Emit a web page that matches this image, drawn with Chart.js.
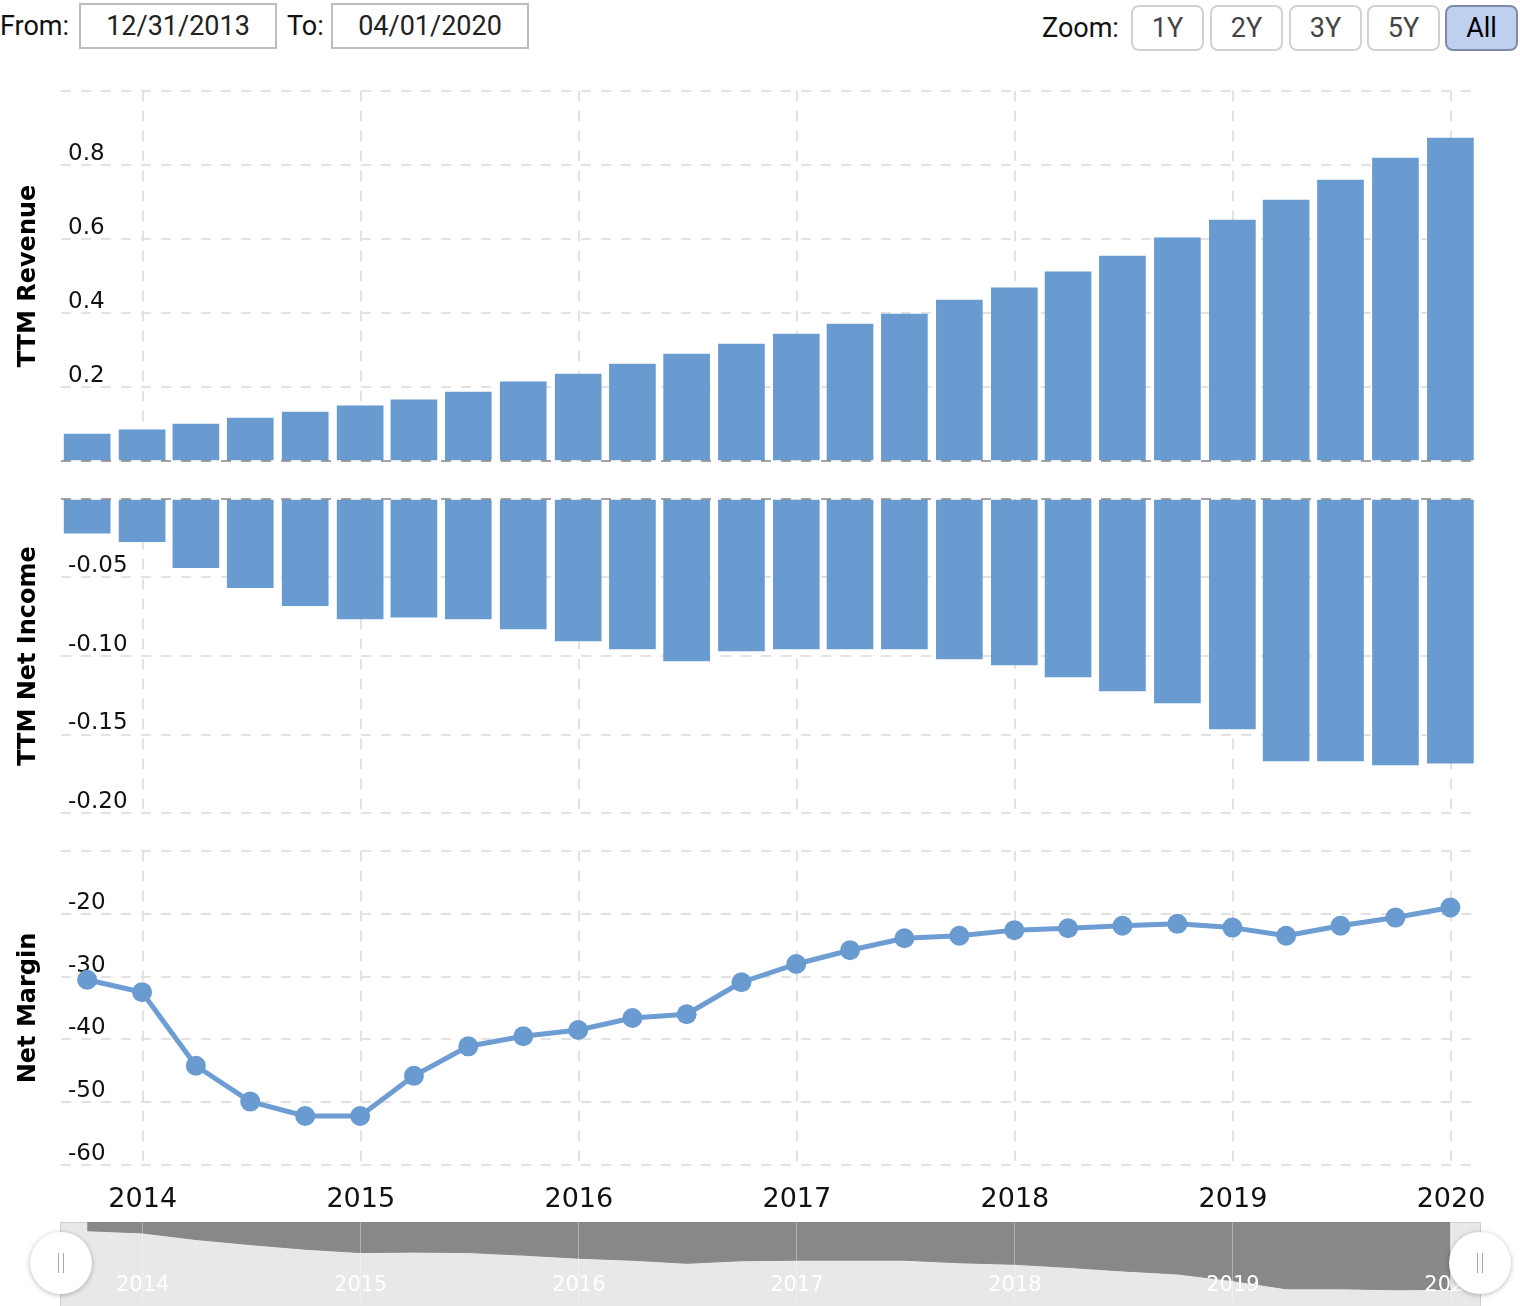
<!DOCTYPE html>
<html><head><meta charset="utf-8">
<script src="https://cdn.jsdelivr.net/npm/chart.js@4.4.1/dist/chart.umd.min.js"></script>
<style>
html,body{margin:0;padding:0;background:#fff;overflow:hidden;width:1520px;height:1306px;}
.lbl{position:absolute;height:46px;display:flex;align-items:center;font-family:Roboto,'Liberation Sans',sans-serif;font-size:27px;color:#111;}
.box{position:absolute;box-sizing:border-box;height:46px;width:198px;border:2px solid #bdbdbd;font-family:Roboto,sans-serif;font-size:27px;color:#222;display:flex;align-items:center;justify-content:center;}
.btn{position:absolute;box-sizing:border-box;top:5px;height:46px;width:73px;border:2px solid #d2d2d2;border-radius:8px;background:#fff;font-family:Roboto,sans-serif;font-size:27px;color:#444;display:flex;align-items:center;justify-content:center;}
.btn.on{background:#bfcff0;border-color:#7f8ba6;color:#000;}
canvas{position:absolute;left:0;}
</style></head><body>
<div class="lbl" style="left:0;top:3px;">From:</div>
<div class="box" style="left:79px;top:3px;">12/31/2013</div>
<div class="lbl" style="left:287px;top:3px;">To:</div>
<div class="box" style="left:331px;top:3px;">04/01/2020</div>
<div class="lbl" style="left:1042px;top:5px;">Zoom:</div>
<div id="btns"></div>
<canvas id="c1" width="1520" height="392" style="top:80px;width:1520px;height:392px;"></canvas>
<canvas id="c2" width="1520" height="336" style="top:488px;width:1520px;height:336px;"></canvas>
<canvas id="c3" width="1520" height="375" style="top:840px;width:1520px;height:375px;"></canvas>
<canvas id="c4" width="1520" height="94" style="top:1212px;width:1520px;height:94px;"></canvas>
<script>
const quarterEnds = ['2013-09-30','2013-12-31','2014-03-31','2014-06-30','2014-09-30','2014-12-31',
  '2015-03-31','2015-06-30','2015-09-30','2015-12-31','2016-03-31','2016-06-30','2016-09-30','2016-12-31',
  '2017-03-31','2017-06-30','2017-09-30','2017-12-31','2018-03-31','2018-06-30','2018-09-30','2018-12-31',
  '2019-03-31','2019-06-30','2019-09-30','2019-12-31'];
const revenue = [0.073,0.084,0.100,0.116,0.132,0.149,0.165,0.186,0.214,0.235,0.262,0.289,0.316,
  0.343,0.370,0.397,0.435,0.468,0.511,0.554,0.603,0.651,0.705,0.759,0.819,0.873];
const netIncome = [-0.0218,-0.0272,-0.0437,-0.0565,-0.0680,-0.0764,-0.0752,-0.0764,-0.0828,-0.0904,
  -0.0955,-0.1032,-0.0968,-0.0955,-0.0955,-0.0955,-0.1019,-0.1057,-0.1134,-0.1223,-0.1299,-0.1465,
  -0.1669,-0.1669,-0.1694,-0.1682];
const netMargin = [-30.5,-32.5,-44.2,-49.9,-52.2,-52.2,-45.8,-41.1,-39.5,-38.5,-36.6,-36.0,-30.9,
  -28.0,-25.8,-23.9,-23.5,-22.6,-22.3,-21.9,-21.6,-22.2,-23.5,-21.9,-20.6,-19.0];
const yearTicks = [2014,2015,2016,2017,2018,2019,2020];
const revenueTicks = [0,0.2,0.4,0.6,0.8,1.0];
const incomeTicks = [-0.2,-0.15,-0.1,-0.05,0];
const marginTicks = [-60,-50,-40,-30,-20,-10];
const navigatorRange = [-0.2,0];
const zoomButtons = ['1Y','2Y','3Y','5Y','All'];
const X_MIN = 2013.6253, X_MAX = 2020.0917;

const btnLeft = [1131,1210,1289,1367,1445];
document.getElementById('btns').innerHTML = zoomButtons.map((b,i)=>
  `<div class="btn${b==='All'?' on':''}" style="left:${btnLeft[i]}px">${b}</div>`).join('');

function toYear(s){
  const d = Date.parse(s+'T00:00:00Z'); const y = +s.slice(0,4);
  const a = Date.UTC(y,0,1), b = Date.UTC(y+1,0,1);
  return y + (d-a)/(b-a);
}
const xs = quarterEnds.map(toYear);
const BLUE = '#699bd0';
const GRID = '#e2e2e2';
const FONT = "'DejaVu Sans', Verdana, sans-serif";

function noPad(ax){ ax.paddingTop = 0; ax.paddingBottom = 0; ax.paddingLeft = 0; ax.paddingRight = 0; }
function xScale(extra, h){
  return Object.assign({
    type:'linear', min:X_MIN, max:X_MAX, offset:false,
    afterBuildTicks: ax => { ax.ticks = yearTicks.map(v=>({value:v})); },
    afterFit: ax => { ax.height = h||0; noPad(ax); },
    grid:{color:GRID, lineWidth:2, drawTicks:false, offset:false, borderDash:[10,10]},
    border:{display:false, dash:[10,10]},
    ticks:{display:false}
  }, extra||{});
}
function yScale(arr, title, fmt){
  return {
    type:'linear', min:arr[0], max:arr[arr.length-1],
    afterBuildTicks: ax => { ax.ticks = arr.map(v=>({value:v})); },
    afterFit: ax => { ax.width = 61; noPad(ax); },
    grid:{color:GRID, lineWidth:2, drawTicks:false, borderDash:[10,10]},
    border:{display:false, dash:[10,10]},
    ticks:{mirror:true, padding:7, labelOffset:-11, color:'#111', autoSkip:false,
      font:{family:FONT, size:23},
      callback:(v,i)=> i===arr.length-1 ? '' : fmt(v)},
    title:{display:true, text:title, color:'#000', font:{family:FONT, size:24, weight:'bold'}, padding:{top:14,bottom:0}}
  };
}
const zeroLine = {
  id:'zeroLine',
  afterDatasetsDraw(chart){
    const {ctx, chartArea:a} = chart; const y = chart.scales.y;
    const py = Math.round(y.getPixelForValue(0));
    ctx.save(); ctx.strokeStyle='rgba(0,0,0,0.28)'; ctx.lineWidth=2; ctx.setLineDash([10,10]);
    ctx.beginPath(); ctx.moveTo(a.left, py); ctx.lineTo(a.right+4, py); ctx.stroke(); ctx.restore();
  }
};
const common = {responsive:false, animation:false, devicePixelRatio:1,
  plugins:{legend:{display:false}, tooltip:{enabled:false}}, events:[]};

new Chart(document.getElementById('c1'), {
  type:'bar',
  data:{datasets:[{data: xs.map((x,i)=>({x, y:revenue[i]})), backgroundColor:BLUE, borderWidth:0, barThickness:46, clip:false}]},
  options:Object.assign({}, common, {
    layout:{padding:{left:0,right:49,top:11,bottom:11}},
    scales:{x:xScale(), y:yScale(revenueTicks,'TTM Revenue', v=>v.toFixed(1))}
  }),
  plugins:[zeroLine]
});
new Chart(document.getElementById('c2'), {
  type:'bar',
  data:{datasets:[{data: xs.map((x,i)=>({x, y:netIncome[i]})), backgroundColor:BLUE, borderWidth:0, barThickness:46, clip:false}]},
  options:Object.assign({}, common, {
    layout:{padding:{left:0,right:49,top:11,bottom:11}},
    scales:{x:xScale(), y:yScale(incomeTicks,'TTM Net Income', v=>v.toFixed(2))}
  }),
  plugins:[zeroLine]
});
new Chart(document.getElementById('c3'), {
  type:'line',
  data:{datasets:[{data: xs.map((x,i)=>({x, y:netMargin[i]})), borderColor:'#6d9dd2', borderWidth:5,
    borderJoinStyle:'round', borderCapStyle:'round', tension:0,
    pointRadius:10, pointBackgroundColor:BLUE, pointBorderColor:BLUE, pointBorderWidth:0, clip:false}]},
  options:Object.assign({}, common, {
    layout:{padding:{left:0,right:49,top:11,bottom:0}},
    scales:{
      x:xScale({
        ticks:{display:true, color:'#111', padding:19, maxRotation:0, autoSkip:false,
          font:{family:FONT, size:27}, callback:v=>String(v)}}, 50),
      y:yScale(marginTicks,'Net Margin', v=>String(Math.round(v)))
    }
  })
});
const navDecor = {
  id:'navDecor',
  beforeDraw(chart){
    const {ctx, chartArea:a} = chart;
    ctx.save();
    ctx.fillStyle='#e8e8e8';
    ctx.fillRect(a.left-1, a.top, a.right-a.left+11, chart.height-a.top);
    ctx.strokeStyle='#cfcfcf'; ctx.lineWidth=1;
    ctx.strokeRect(a.left-0.5, a.top+0.5, a.right-a.left+10, chart.height-a.top+5);
    ctx.restore();
  },
  afterDraw(chart){
    const {ctx, chartArea:a} = chart;
    const xsc = chart.scales.x;
    ctx.save();
    ctx.fillStyle='#ffffff'; ctx.font = "21px " + FONT; ctx.textAlign='center'; ctx.textBaseline='middle';
    xsc.ticks.forEach(t=>{ ctx.fillText(String(t.value), xsc.getPixelForValue(t.value), a.top + 64); });
    ctx.restore();
    const cy = a.top + 41;
    [a.left, a.right+9].forEach(cx=>{
      ctx.save();
      ctx.shadowColor='rgba(0,0,0,0.28)'; ctx.shadowBlur=5; ctx.shadowOffsetY=1;
      ctx.fillStyle='#fff'; ctx.beginPath(); ctx.arc(cx, cy, 31, 0, Math.PI*2); ctx.fill();
      ctx.restore();
      ctx.save(); ctx.strokeStyle='#a8a8a8'; ctx.lineWidth=1;
      ctx.beginPath(); ctx.moveTo(cx-2.5, cy-10); ctx.lineTo(cx-2.5, cy+10);
      ctx.moveTo(cx+2.5, cy-10); ctx.lineTo(cx+2.5, cy+10); ctx.stroke(); ctx.restore();
    });
  }
};
new Chart(document.getElementById('c4'), {
  type:'line',
  data:{datasets:[{data: xs.map((x,i)=>({x, y:netIncome[i]})), fill:'origin', backgroundColor:'#888888',
    borderColor:'#888888', borderWidth:1, pointRadius:0, tension:0}]},
  options:Object.assign({}, common, {
    layout:{padding:{left:61,right:49,top:10,bottom:4}},
    scales:{
      x:xScale({
        grid:{color:'rgba(255,255,255,0.35)', lineWidth:1, drawTicks:false, offset:false, z:1},
        border:{display:false},
        ticks:{display:false}
      }),
      y:{display:false, min:navigatorRange[0], max:navigatorRange[1]}
    }
  }),
  plugins:[navDecor]
});
</script>
</body></html>
